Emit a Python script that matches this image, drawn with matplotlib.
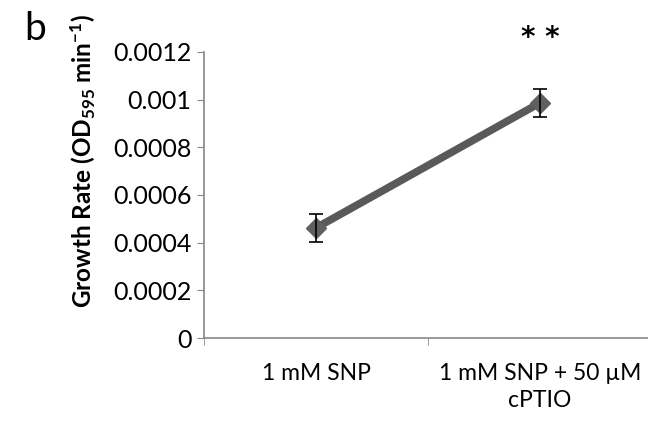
import matplotlib.pyplot as plt
from matplotlib.ticker import FixedLocator

plt.rcParams['font.family'] = ['Lato', 'DejaVu Sans']
plt.rcParams['mathtext.fontset'] = 'custom'
plt.rcParams['mathtext.rm'] = 'Lato'
plt.rcParams['mathtext.bf'] = 'Lato:bold'

# data
categories = ['1 mM SNP', '1 mM SNP + 50 \u00b5M\ncPTIO']
growth_rate = [0.000462, 0.000986]
growth_err = [0.00006, 0.00006]
ytick_vals = [0, 0.0002, 0.0004, 0.0006, 0.0008, 0.001, 0.0012]
ytick_labels = ['0', '0.0002', '0.0004', '0.0006', '0.0008', '0.001', '0.0012']

fig = plt.figure(figsize=(6.48, 4.22), dpi=100)
ax = fig.add_axes([0.315, 0.199, 0.691, 0.678])

x = list(range(len(categories)))
ax.plot(x, growth_rate, color='#595959', lw=5.5, solid_capstyle='butt', zorder=2)
ax.plot(x, growth_rate, 'D', color='#606060', ms=10, zorder=3)
ax.errorbar(x, growth_rate, yerr=growth_err, fmt='none', ecolor='black',
            elinewidth=1.2, capsize=5, capthick=1.2, zorder=4)

ax.set_xlim(-0.5, 1.5)
ax.set_ylim(0, 0.0012)
ax.set_yticks(ytick_vals)
ax.set_yticklabels(ytick_labels, fontsize=18)
ax.set_xticks(x)
ax.set_xticklabels(categories, fontsize=16.5, linespacing=1.35)
ax.xaxis.set_minor_locator(FixedLocator([-0.5, 0.5, 1.5]))
ax.tick_params(axis='x', which='major', length=0, pad=18)
ax.tick_params(axis='x', which='minor', length=5, color='#888888', direction='out')
ax.tick_params(axis='y', length=5, color='#888888', pad=4)

for s in ['top', 'right']:
    ax.spines[s].set_visible(False)
for s in ['left', 'bottom']:
    ax.spines[s].set_color('#888888')
    ax.spines[s].set_linewidth(1.2)

ax.set_ylabel(r'Growth Rate (OD$\mathbf{_{595}}$ min$\mathbf{^{-1}}$)',
              fontsize=17.5, fontweight='bold')
ax.yaxis.set_label_coords(-0.237, 0.62)

ax.text(x[1], 0.00126, '* *', ha='center', va='center', fontsize=20, fontweight='bold',
        family='DejaVu Sans', clip_on=False)
fig.text(0.038, 0.975, 'b', fontsize=28, va='top', ha='left')

fig.savefig('out.png', dpi=100)
